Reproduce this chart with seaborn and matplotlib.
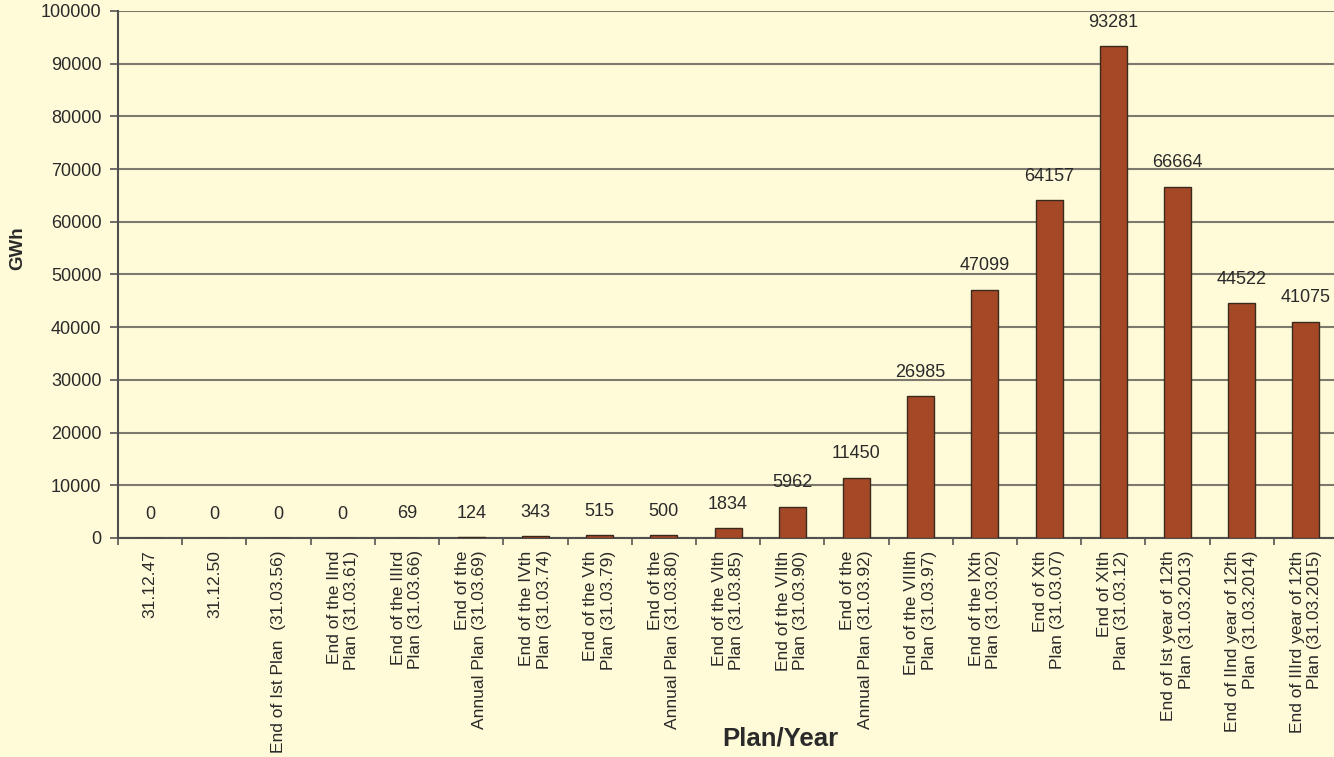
import matplotlib
matplotlib.use("Agg")
import matplotlib.pyplot as plt
import numpy as np
import pandas as pd
import seaborn as sns

categories = [
    "31.12.47",
    "31.12.50",
    "End of Ist Plan  (31.03.56)",
    "End of the IInd\nPlan (31.03.61)",
    "End of the IIIrd\nPlan (31.03.66)",
    "End of the\nAnnual Plan (31.03.69)",
    "End of the IVth\nPlan (31.03.74)",
    "End of the Vth\nPlan (31.03.79)",
    "End of the\nAnnual Plan (31.03.80)",
    "End of the VIth\nPlan (31.03.85)",
    "End of the VIIth\nPlan (31.03.90)",
    "End of the\nAnnual Plan (31.03.92)",
    "End of the VIIIth\nPlan (31.03.97)",
    "End of the IXth\nPlan (31.03.02)",
    "End of Xth\nPlan (31.03.07)",
    "End of XIth\nPlan (31.03.12)",
    "End of Ist year of 12th\nPlan (31.03.2013)",
    "End of IInd year of 12th\nPlan (31.03.2014)",
    "End of IIIrd year of 12th\nPlan (31.03.2015)",
]
gwh = [0, 0, 0, 0, 69, 124, 343, 515, 500, 1834, 5962, 11450,
       26985, 47099, 64157, 93281, 66664, 44522, 41075]
y_ticks = list(range(0, 100001, 10000))

sns.set_theme(style="white")
plt.rcParams["font.family"] = ["Liberation Sans", "DejaVu Sans"]

bg = "#FFFAD8"
text_color = "#2a2a2a"
bar_color = "#A54826"

fig = plt.figure(figsize=(13.34, 7.57), dpi=100, facecolor=bg)
ax = fig.add_axes([0.0885, 0.2893, 0.9145, 0.6962])
ax.set_facecolor(bg)

df = pd.DataFrame({"plan": categories, "gwh": gwh})
sns.barplot(data=df, x="plan", y="gwh", color=bar_color, saturation=1,
            width=0.42, edgecolor="#3a2a1e", linewidth=1.0, ax=ax, zorder=3)

ax.set_ylim(0, 100000)
ax.set_xlim(-0.5, len(categories) - 0.5)
ax.set_yticks(y_ticks)
ax.set_yticklabels([str(v) for v in y_ticks], fontsize=13, color=text_color)
ax.yaxis.grid(True, color="#7c7a6c", linewidth=1.5, zorder=0)
ax.xaxis.grid(False)

# category labels sit at bar centres; tick marks sit on category boundaries
ax.set_xticks(np.arange(len(categories)))
ax.set_xticklabels(categories, rotation=90, fontsize=12.5, color=text_color,
                   ha="center", va="top", multialignment="right")
ax.set_xticks(np.arange(len(categories)) - 0.5, minor=True)
ax.tick_params(axis="x", which="major", length=0, pad=9)
ax.tick_params(axis="x", which="minor", length=5, width=1.2,
               color="#555555", direction="out", bottom=True)
ax.tick_params(axis="y", length=6, width=1.2, color="#555555",
               direction="out", left=True, pad=6)

for side in ["top", "right"]:
    ax.spines[side].set_visible(False)
for side in ["left", "bottom"]:
    ax.spines[side].set_color("#505050")
    ax.spines[side].set_linewidth(1.5)

for i, v in enumerate(gwh):
    ax.annotate(str(v), (i, v), xytext=(0, 11), textcoords="offset points",
                ha="center", va="bottom", fontsize=13, color=text_color)

ax.set_xlabel("")
ax.set_ylabel("")
fig.text(0.585, 0.008, "Plan/Year", ha="center", va="bottom",
         fontsize=18.5, fontweight="bold", color=text_color)
fig.text(0.013, 0.672, "GWh", ha="center", va="center", rotation=90,
         fontsize=13.5, fontweight="bold", color=text_color)

fig.savefig("out.png", dpi=100, facecolor=bg)
